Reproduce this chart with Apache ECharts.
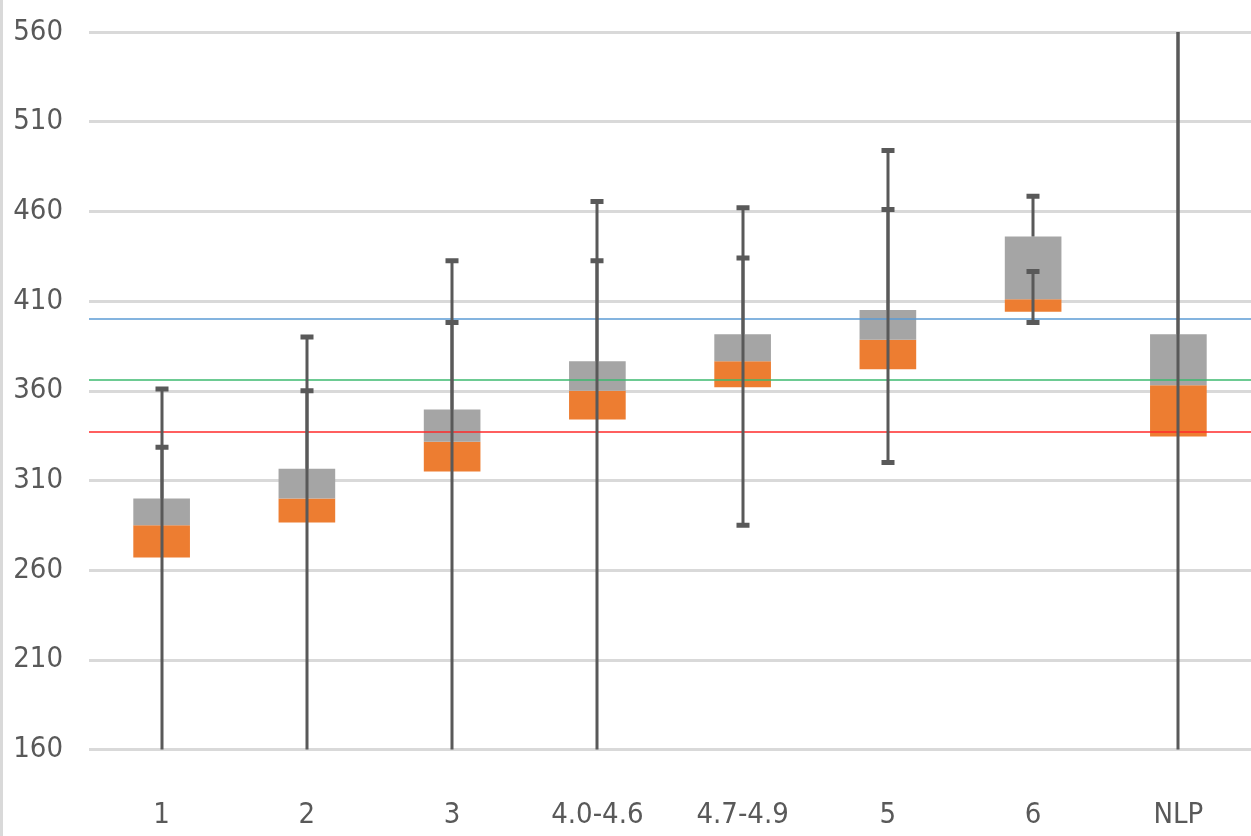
<!DOCTYPE html>
<html>
<head>
<meta charset="utf-8">
<script src="https://cdn.jsdelivr.net/npm/echarts@6/dist/echarts.min.js"></script>
<style>
html,body{margin:0;padding:0;background:#fff;}
#c{width:1251px;height:836px;}
</style>
</head>
<body>
<div id="c"></div>
<script>
// ---- data ----
const categories = ['1', '2', '3', '4.0-4.6', '4.7-4.9', '5', '6', 'NLP'];
const q1Values     = [267, 286.5, 315, 344, 362, 372, 404, 334.5];
const medianValues = [285, 300, 331.5, 360, 376.5, 388.5, 411, 363];
const q3Values     = [300, 316.5, 349.5, 376.5, 391.5, 405, 446, 391.5];
// upper whisker (from box top up to cap)
const upperCap     = [361, 390, 432.5, 465.5, 462, 494, 468.5, 590];
// second whisker range (lower cap .. inner cap); values below 160 fall off the axis
const innerCap     = [328.5, 360, 398, 432.5, 434, 461, 426.5, 580];
const lowerCap     = [140, 140, 140, 140, 285, 320, 398, 140];
// reference lines
const refBlue = 400, refGreen = 366, refRed = 337;
const yTicks = { min: 160, max: 560, interval: 50 };

const FONT = "'DejaVu Sans Condensed', 'Liberation Sans Narrow', 'Liberation Sans', sans-serif";
const WHISKER = '#595959';

const baseData = q1Values;
const orangeData = q1Values.map((v, i) => +(medianValues[i] - v).toFixed(2));
const grayData = medianValues.map((v, i) => +(q3Values[i] - v).toFixed(2));
const whiskerData = categories.map((c, i) => [i, q3Values[i], upperCap[i], lowerCap[i], innerCap[i]]);

function renderWhisker(params, api) {
  const x = api.value(0);
  const pA0 = api.coord([x, api.value(1)]);
  const pA1 = api.coord([x, api.value(2)]);
  const pB0 = api.coord([x, api.value(3)]);
  const pB1 = api.coord([x, api.value(4)]);
  const cx = Math.round(pA0[0]);
  const capW = 13, capH = 5;
  const ls = { stroke: WHISKER, lineWidth: 3 };
  const cap = (y) => ({ type: 'rect', shape: { x: cx - capW / 2, y: y - capH / 2, width: capW, height: capH },
                        style: { fill: WHISKER } });
  return {
    type: 'group',
    children: [
      { type: 'line', shape: { x1: cx, y1: pA0[1], x2: cx, y2: pA1[1] }, style: ls },
      cap(pA1[1]),
      { type: 'line', shape: { x1: cx, y1: pB0[1], x2: cx, y2: pB1[1] }, style: ls },
      cap(pB0[1]),
      cap(pB1[1])
    ]
  };
}

const chart = echarts.init(document.getElementById('c'), null, { renderer: 'canvas' });
chart.setOption({
  animation: false,
  backgroundColor: '#ffffff',
  graphic: [{ type: 'rect', left: 0, top: 0, shape: { width: 3, height: 836 }, style: { fill: '#D9D9D9' } }],
  grid: { left: 89, top: 32, width: 1164, height: 717.5, containLabel: false },
  xAxis: {
    type: 'category',
    data: categories,
    axisLine: { show: false },
    axisTick: { show: false },
    axisLabel: { color: '#595959', fontFamily: FONT, fontSize: 29, margin: 51 }
  },
  yAxis: {
    type: 'value',
    min: yTicks.min, max: yTicks.max, interval: yTicks.interval,
    axisLine: { show: false },
    axisTick: { show: false },
    axisLabel: { color: '#595959', fontFamily: FONT, fontSize: 29, margin: 26 },
    splitLine: { show: true, lineStyle: { color: '#D9D9D9', width: 3 } }
  },
  series: [
    { type: 'bar', stack: 'box', data: baseData, barWidth: '39%', itemStyle: { color: 'transparent' }, silent: true },
    { type: 'bar', stack: 'box', data: orangeData, barWidth: '39%', itemStyle: { color: '#ED7D31' } },
    { type: 'bar', stack: 'box', data: grayData, barWidth: '39%', itemStyle: { color: '#A5A5A5' } },
    {
      type: 'custom', renderItem: renderWhisker, data: whiskerData, clip: true, z: 5,
      encode: { x: 0, y: [1, 2, 3, 4] },
      markLine: {
        silent: true, symbol: 'none', label: { show: false },
        data: [
          { yAxis: refBlue, lineStyle: { color: '#5B9BD5', width: 1.5, type: 'solid' } },
          { yAxis: refGreen, lineStyle: { color: '#3DBA6F', width: 1.5, type: 'solid' } },
          { yAxis: refRed, lineStyle: { color: '#FF2A2A', width: 1.5, type: 'solid' } }
        ]
      }
    }
  ]
});
</script>
</body>
</html>
